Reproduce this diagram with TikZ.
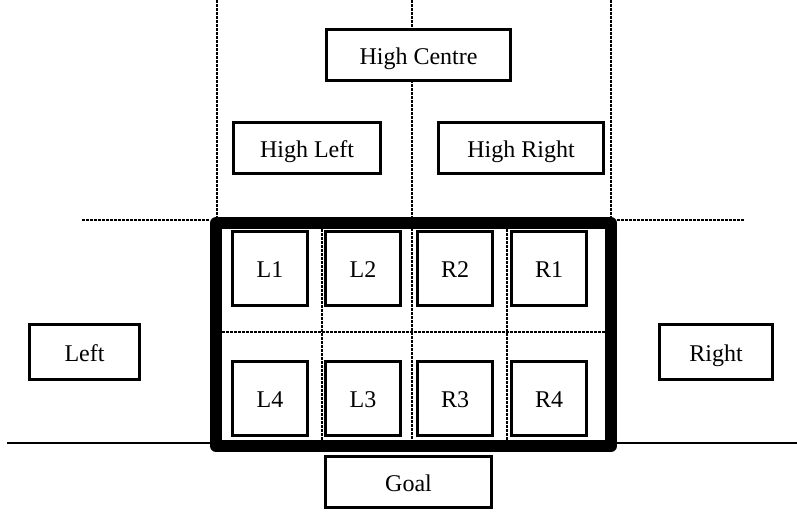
\documentclass[tikz,border=0pt]{standalone}
\usepackage{fontspec}
\setmainfont{Liberation Serif}
\tikzset{
  zone/.style={draw, fill=white, line width=3pt, inner sep=0pt,
    text height=19pt, text depth=1pt,
    minimum height=51pt, font=\fontsize{24}{28}\selectfont},
  cell/.style={zone, minimum width=75pt, minimum height=74pt},
  fieldline/.style={line width=2.4pt, dash pattern=on 3pt off 1pt},
  groundline/.style={line width=2pt},
  frame/.style={line width=12pt, line join=round}
}
\begin{document}
\begin{tikzpicture}[x=1pt, y=-1pt]
  \useasboundingbox (0,0) rectangle (797,511);
  % field lines
  \draw[fieldline] (217,0) -- (217,217);
  \draw[fieldline] (611,0) -- (611,217);
  \draw[fieldline] (412,0) -- (412,440);
  \draw[fieldline] (82,220) -- (210,220);
  \draw[fieldline] (617,220) -- (745,220);
  \draw[fieldline] (222,332) -- (605,332);
  \draw[fieldline] (322,229) -- (322,440);
  \draw[fieldline] (507,229) -- (507,440);
  % goal line
  \draw[groundline] (7,443) -- (210,443);
  \draw[groundline] (617,443) -- (797,443);
  % goal frame
  \coordinate (nw) at (216,223);
  \coordinate (se) at (611,446);
  \draw[frame] (nw) rectangle (se);
  % zones
  \node[zone, minimum width=184pt] (hc) at (418.5,55) {High Centre};
  \node[zone, minimum width=147pt] (hl) at (307,148) {High Left};
  \node[zone, minimum width=165pt] (hr) at (521,148) {High Right};
  \node[zone, minimum width=110pt, minimum height=55pt] (left) at (84.5,352) {Left};
  \node[zone, minimum width=113pt, minimum height=55pt] (right) at (716,352) {Right};
  \node[zone, minimum width=166pt] (goal) at (408.5,482) {Goal};
  % cells
  \node[cell] (l1) at (270,268.5) {L1};
  \node[cell] (l2) at (363,268.5) {L2};
  \node[cell] (r2) at (455,268.5) {R2};
  \node[cell] (r1) at (549,268.5) {R1};
  \node[cell] (l4) at (270,398) {L4};
  \node[cell] (l3) at (363,398) {L3};
  \node[cell] (r3) at (455,398) {R3};
  \node[cell] (r4) at (549,398) {R4};
\end{tikzpicture}
\end{document}
